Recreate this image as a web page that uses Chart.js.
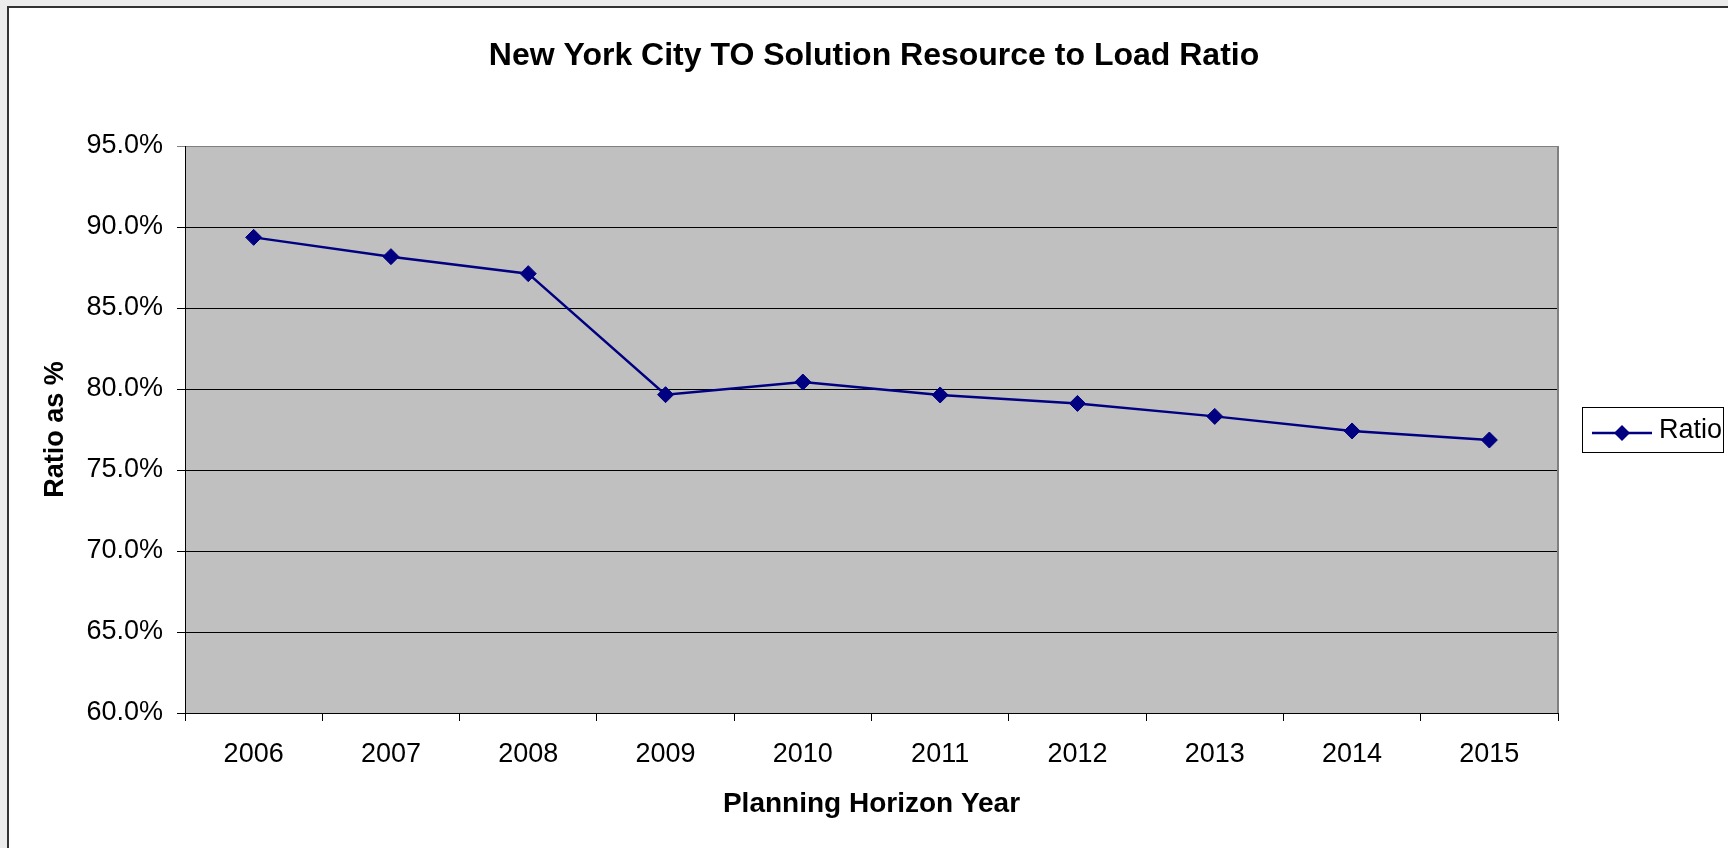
<!DOCTYPE html>
<html><head><meta charset="utf-8">
<script src="https://cdn.jsdelivr.net/npm/chart.js@4.4.1/dist/chart.umd.min.js"></script>
<style>
html,body{margin:0;padding:0;background:#ececec;width:1728px;height:848px;overflow:hidden;}
#frame{position:absolute;left:7px;top:6px;width:1740px;height:860px;background:#fff;border:2px solid #333;box-sizing:border-box;}
#c{position:absolute;left:0;top:0;}
</style></head><body>
<div id="frame"></div>
<canvas id="c" width="1728" height="848"></canvas>
<script>
const years = ['2006','2007','2008','2009','2010','2011','2012','2013','2014','2015'];
const ratioValues = [89.36, 88.17, 87.12, 79.65, 80.43, 79.63, 79.11, 78.31, 77.41, 76.85];
const yTickValues = [60, 65, 70, 75, 80, 85, 90, 95];
const seriesName = 'Ratio';
const chartTitle = 'New York City TO Solution Resource to Load Ratio';
const xAxisTitle = 'Planning Horizon Year';
const yAxisTitle = 'Ratio as %';

const FAMILY = "'Liberation Sans', Arial, sans-serif";
const NAVY = '#000080';

const plotBackground = {
  id: 'plotBackground',
  beforeDraw(chart) {
    const {ctx, chartArea: a} = chart;
    ctx.save();
    ctx.fillStyle = '#c0c0c0';
    ctx.fillRect(a.left, a.top, a.right - a.left, a.bottom - a.top);
    ctx.restore();
  },
  beforeDatasetsDraw(chart) {
    const {ctx, chartArea: a} = chart;
    ctx.save();
    ctx.strokeStyle = '#808080';
    ctx.lineWidth = 2;
    ctx.beginPath();
    ctx.moveTo(a.right, a.top);
    ctx.lineTo(a.right, a.bottom);
    ctx.stroke();
    ctx.restore();
  }
};

const boxedLegend = {
  id: 'boxedLegend',
  afterDraw(chart) {
    const {ctx, chartArea: a} = chart;
    const ds = chart.data.datasets[0];
    const left = a.right + 24, w = 141, h = 45;
    const cy = (a.top + a.bottom) / 2;
    const top = Math.round(cy - h / 2);
    ctx.save();
    ctx.fillStyle = '#fff';
    ctx.fillRect(left, top, w, h);
    ctx.strokeStyle = '#000';
    ctx.lineWidth = 1;
    ctx.strokeRect(left + 0.5, top + 0.5, w, h);
    const ly = top + 26;
    ctx.strokeStyle = ds.borderColor;
    ctx.lineWidth = 2.5;
    ctx.beginPath();
    ctx.moveTo(left + 10, ly);
    ctx.lineTo(left + 70, ly);
    ctx.stroke();
    const mx = left + 40, r = 8;
    ctx.fillStyle = ds.pointBackgroundColor;
    ctx.beginPath();
    ctx.moveTo(mx - r, ly); ctx.lineTo(mx, ly - r); ctx.lineTo(mx + r, ly); ctx.lineTo(mx, ly + r);
    ctx.closePath();
    ctx.fill();
    ctx.fillStyle = '#000';
    ctx.font = '27px ' + FAMILY;
    ctx.textBaseline = 'alphabetic';
    ctx.textAlign = 'left';
    ctx.fillText(ds.label, left + 77, top + 31);
    ctx.restore();
  }
};

new Chart(document.getElementById('c'), {
  type: 'line',
  data: {
    labels: years,
    datasets: [{
      label: seriesName,
      data: ratioValues,
      borderColor: NAVY,
      borderWidth: 2.5,
      backgroundColor: NAVY,
      pointStyle: 'rectRot',
      pointRadius: 8,
      pointHoverRadius: 8,
      pointBackgroundColor: NAVY,
      pointBorderColor: NAVY,
      pointBorderWidth: 1,
      tension: 0,
      fill: false
    }]
  },
  options: {
    responsive: false,
    animation: false,
    events: [],
    layout: { padding: { left: 20, top: 10, right: 0, bottom: 0 } },
    plugins: {
      legend: { display: false },
      tooltip: { enabled: false },
      title: {
        display: true,
        text: chartTitle,
        color: '#000',
        font: { family: FAMILY, size: 32, weight: 'bold' },
        padding: { top: 26.8, bottom: 70.8 }
      }
    },
    scales: {
      x: {
        offset: true,
        grid: { offset: true, drawOnChartArea: false, tickLength: 8, color: '#000', lineWidth: 1 },
        border: { color: '#000', width: 1 },
        ticks: { color: '#000', font: { family: FAMILY, size: 27 }, padding: 17, maxRotation: 0, autoSkip: false },
        title: { display: true, text: xAxisTitle, color: '#000', font: { family: FAMILY, size: 28, weight: 'bold' }, padding: { top: 0, bottom: 27 } },
        afterFit(s) { s.height = 135; }
      },
      y: {
        min: 60,
        max: 95,
        afterBuildTicks(s) { s.ticks = yTickValues.map(v => ({ value: v })); },
        ticks: { color: '#000', font: { family: FAMILY, size: 27 }, padding: 14, callback: v => Number(v).toFixed(1) + '%' },
        grid: { color: c => (c.tick && c.tick.value === 95) ? '#808080' : '#000', tickLength: 8, lineWidth: 1 },
        border: { color: '#000', width: 1 },
        title: { display: true, text: yAxisTitle, color: '#000', font: { family: FAMILY, size: 27, weight: 'bold' }, padding: { top: 19, bottom: 0 } },
        afterFit(s) { s.width = 165; }
      },
      yRightSpace: {
        position: 'right',
        display: true,
        grid: { display: false },
        border: { display: false },
        ticks: { display: false },
        afterFit(s) { s.width = 170; }
      }
    }
  },
  plugins: [plotBackground, boxedLegend]
});
</script>
</body></html>
